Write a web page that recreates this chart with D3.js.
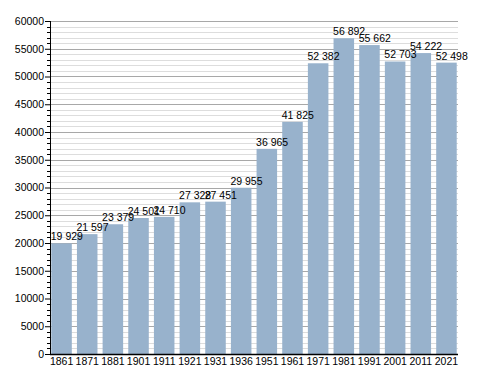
<!DOCTYPE html>
<html>
<head>
<meta charset="utf-8">
<script src="https://cdn.jsdelivr.net/npm/d3@7"></script>
<style>
  body { margin: 0; background: #fff; }
  text { font-family: "Liberation Sans", Arial, sans-serif; font-size: 10.5px; fill: #000; }
</style>
</head>
<body>
<div id="chart"></div>
<script>
// census years and population
var years = ["1861","1871","1881","1901","1911","1921","1931","1936","1951","1961","1971","1981","1991","2001","2011","2021"];
var population = [19929,21597,23379,24501,24710,27328,27451,29955,36965,41825,52382,56892,55662,52703,54222,52498];
var yTicks = [0,5000,10000,15000,20000,25000,30000,35000,40000,45000,50000,55000,60000];

var svgWidth = 488, svgHeight = 373;
var margin = { top: 21, right: 30, bottom: 19, left: 50 };
var chartWidth = svgWidth - margin.left - margin.right;
var chartHeight = svgHeight - margin.top - margin.bottom;

var svg = d3.select("#chart").append("svg")
  .attr("width", svgWidth)
  .attr("height", svgHeight);

var chartGroup = svg.append("g")
  .attr("transform", `translate(${margin.left}, ${margin.top})`);

var x = d3.scaleBand()
  .domain(years)
  .range([0, chartWidth])
  .paddingInner(0.2)
  .paddingOuter(0.05);

var y = d3.scaleLinear()
  .domain([0, 60000])
  .range([chartHeight, 0]);

// minor gridlines every 1000
var minor = d3.range(1000, 60001, 1000).filter(d => d % 5000 !== 0);
chartGroup.selectAll(".minor")
  .data(minor)
  .enter()
  .append("line")
  .attr("x1", 0).attr("x2", chartWidth)
  .attr("y1", d => Math.round(y(d)) + 0.5)
  .attr("y2", d => Math.round(y(d)) + 0.5)
  .attr("stroke", "#dddddd");

// major gridlines
chartGroup.selectAll(".major")
  .data(yTicks.slice(1))
  .enter()
  .append("line")
  .attr("x1", 0).attr("x2", chartWidth)
  .attr("y1", d => Math.round(y(d)) + 0.5)
  .attr("y2", d => Math.round(y(d)) + 0.5)
  .attr("stroke", "#a8a8a8");

// bars
chartGroup.selectAll("rect")
  .data(population)
  .enter()
  .append("rect")
  .attr("x", (d, i) => x(years[i]))
  .attr("y", d => y(d))
  .attr("width", x.bandwidth())
  .attr("height", d => chartHeight - y(d))
  .attr("fill", "#98b2cc");

// value labels
chartGroup.selectAll(".val")
  .data(population)
  .enter()
  .append("text")
  .attr("x", (d, i) => x(years[i]) - 0.5)
  .attr("y", d => y(d) - 3)
  .text(d => d3.format(",")(d).replace(",", " "));

// y axis
var leftAxis = d3.axisLeft(y).tickValues(yTicks).tickSize(5).tickFormat(d => d);
var yAxis = chartGroup.append("g").call(leftAxis);
yAxis.select(".domain").remove();
yAxis.selectAll("text").style("font-size", "10.5px").style("font-family", "Liberation Sans, Arial, sans-serif").attr("x", -6);

// minor ticks on y axis
chartGroup.selectAll(".mtick")
  .data(minor)
  .enter()
  .append("line")
  .attr("x1", -3).attr("x2", 0)
  .attr("y1", d => Math.round(y(d)) + 0.5)
  .attr("y2", d => Math.round(y(d)) + 0.5)
  .attr("stroke", "#000");

chartGroup.append("line")
  .attr("x1", 0.5).attr("x2", 0.5)
  .attr("y1", 0).attr("y2", chartHeight)
  .attr("stroke", "#000");

// x axis
var bottomAxis = d3.axisBottom(x).tickSize(0).tickPadding(4);
var xAxis = chartGroup.append("g")
  .attr("transform", `translate(0, ${chartHeight})`)
  .call(bottomAxis);
xAxis.select(".domain").remove();
xAxis.selectAll("text").style("font-size", "10.5px").style("font-family", "Liberation Sans, Arial, sans-serif");

chartGroup.append("line")
  .attr("x1", 0).attr("x2", chartWidth)
  .attr("y1", chartHeight + 0.5).attr("y2", chartHeight + 0.5)
  .attr("stroke", "#000")
  .attr("stroke-width", 1.5);
</script>
</body>
</html>
